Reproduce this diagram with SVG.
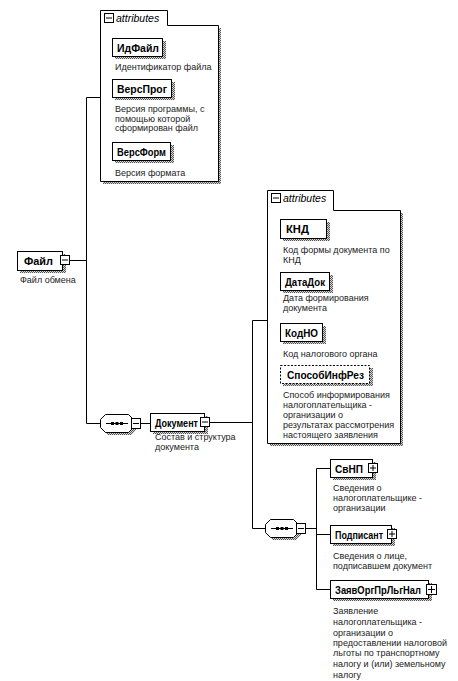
<svg xmlns="http://www.w3.org/2000/svg" width="458" height="681" viewBox="0 0 458 681">
<defs>
<pattern id="dots" width="2" height="2" patternUnits="userSpaceOnUse">
<rect width="2" height="2" fill="#d8d8d8"/>
<rect width="1" height="1" fill="#555"/>
<rect x="1" y="1" width="1" height="1" fill="#555"/>
</pattern>
</defs>
<style>
.box{fill:#fff;stroke:#000;stroke-width:1}
.dash{fill:#fff;stroke:#000;stroke-width:1;stroke-dasharray:2,1.5}
.sh{fill:url(#dots)}
.ic{fill:#fff;stroke:#000;stroke-width:1}
.icl{stroke:#000;stroke-width:1}
.lbl{font-family:"Liberation Sans",Arial,sans-serif;font-size:10.5px;font-weight:bold;fill:#000}
.desc{font-family:"Liberation Sans",Arial,sans-serif;font-size:9px;fill:#222}
.tab{font-family:"Liberation Sans",Arial,sans-serif;font-size:10.5px;font-style:italic;fill:#000}
.ln{stroke:#000;stroke-width:1;fill:none}
.frame{fill:#fff;stroke:#000;stroke-width:1}
</style>
<rect width="458" height="681" fill="#fff"/>

<g id="connectors">
<path class="ln" d="M69.5,260.5H86.5M86.5,97.5V423.5M86.5,97.5H100M86.5,423.5H100M141,423.5H150"/>
<path class="ln" d="M209,422.5H252.5M252.5,320.5V528.5M252.5,320.5H267M252.5,528.5H265M306,528.5H316.5M316.5,468.5V589.5M316.5,468.5H330M316.5,534.5H330M316.5,589.5H330"/>
</g>

<g id="attributes1">
<polyline class="sh" points="218,28 221,28 221,184 103,184 103,181 218,181"/>
<path class="frame" d="M100.5,10.5H167.5V25.5H218.5V181.5H100.5Z"/>
<rect class="ic" x="104.5" y="13.5" width="9" height="9"/>
<line class="icl" x1="106" y1="18" x2="112" y2="18"/>
<text class="tab" x="116" y="22">attributes</text>
</g>

<g id="ИдФайл">
<rect class="sh" x="115" y="41" width="51" height="18"/>
<rect class="box" x="112.5" y="38.5" width="50" height="18"/>
<text class="lbl" x="117" y="51.5" textLength="42" lengthAdjust="spacingAndGlyphs">ИдФайл</text>
<text class="desc" x="115" y="70">Идентификатор файла</text>
</g>

<g id="ВерсПрог">
<rect class="sh" x="115" y="82" width="60" height="18"/>
<rect class="box" x="112.5" y="79.5" width="59" height="18"/>
<text class="lbl" x="117" y="92.5" textLength="50" lengthAdjust="spacingAndGlyphs">ВерсПрог</text>
<text class="desc" x="115" y="112">Версия программы, с</text>
<text class="desc" x="115" y="121.5">помощью которой</text>
<text class="desc" x="115" y="131">сформирован файл</text>
</g>

<g id="ВерсФорм">
<rect class="sh" x="115" y="145" width="59" height="18"/>
<rect class="box" x="112.5" y="142.5" width="58" height="18"/>
<text class="lbl" x="117" y="155.5" textLength="49" lengthAdjust="spacingAndGlyphs">ВерсФорм</text>
<text class="desc" x="115" y="176">Версия формата</text>
</g>

<g id="Файл">
<rect class="sh" x="20" y="254" width="46" height="19"/>
<rect class="box" x="17.5" y="251.5" width="45" height="19"/>
<text class="lbl" x="24" y="265" textLength="29" lengthAdjust="spacingAndGlyphs">Файл</text>
<rect class="ic" x="60.5" y="255.5" width="9" height="9"/>
<line class="icl" x1="62" y1="260" x2="68" y2="260"/>
<text class="desc" x="20" y="283">Файл обмена</text>
</g>

<g id="attributes2">
<polyline class="sh" points="400,213 403,213 403,446 270,446 270,443 400,443"/>
<path class="frame" d="M267.5,190.5H333.5V210.5H400.5V443.5H267.5Z"/>
<rect class="ic" x="271.5" y="193.5" width="9" height="9"/>
<line class="icl" x1="273" y1="198" x2="279" y2="198"/>
<text class="tab" x="283" y="202">attributes</text>
</g>

<g id="КНД">
<rect class="sh" x="283" y="222" width="47" height="19"/>
<rect class="box" x="280.5" y="219.5" width="46" height="19"/>
<text class="lbl" x="286" y="233" textLength="23" lengthAdjust="spacingAndGlyphs">КНД</text>
<text class="desc" x="283" y="253">Код формы документа по</text>
<text class="desc" x="283" y="263">КНД</text>
</g>

<g id="ДатаДок">
<rect class="sh" x="283" y="275" width="50" height="18"/>
<rect class="box" x="280.5" y="272.5" width="49" height="18"/>
<text class="lbl" x="285" y="285.5" textLength="40" lengthAdjust="spacingAndGlyphs">ДатаДок</text>
<text class="desc" x="283" y="301">Дата формирования</text>
<text class="desc" x="283" y="311">документа</text>
</g>

<g id="КодНО">
<rect class="sh" x="283" y="326" width="43" height="18"/>
<rect class="box" x="280.5" y="323.5" width="42" height="18"/>
<text class="lbl" x="285" y="336.5" textLength="33" lengthAdjust="spacingAndGlyphs">КодНО</text>
<text class="desc" x="283" y="357">Код налогового органа</text>
</g>

<g id="СпособИнфРез">
<rect class="sh" x="283" y="368" width="90" height="18"/>
<rect class="dash" x="280.5" y="365.5" width="89" height="18"/>
<text class="lbl" x="287" y="378.5" textLength="77" lengthAdjust="spacingAndGlyphs">СпособИнфРез</text>
<text class="desc" x="283" y="398">Способ информирования</text>
<text class="desc" x="283" y="408">налогоплательщика -</text>
<text class="desc" x="283" y="418">организации о</text>
<text class="desc" x="283" y="428">результатах рассмотрения</text>
<text class="desc" x="283" y="438">настоящего заявления</text>
</g>

<g id="sequence1">
<polygon class="sh" points="108,417 131,417 136,422 136,430 131,435 108,435 103,430 103,422"/>
<polygon class="box" points="105.5,414.5 128.5,414.5 133.5,419.5 133.5,427.5 128.5,432.5 105.5,432.5 100.5,427.5 100.5,419.5"/>
<line class="icl" x1="106" y1="423.5" x2="128" y2="423.5"/>
<rect x="111" y="422" width="3" height="3" fill="#000"/>
<rect x="115.5" y="422" width="3" height="3" fill="#000"/>
<rect x="120" y="422" width="3" height="3" fill="#000"/>
<rect class="ic" x="131.5" y="418.5" width="9" height="10"/>
<line class="icl" x1="133" y1="423.5" x2="139" y2="423.5"/>
</g>

<g id="Документ">
<rect class="sh" x="153" y="416" width="55" height="18"/>
<rect class="box" x="150.5" y="413.5" width="54" height="18"/>
<text class="lbl" x="155" y="426.5" textLength="43" lengthAdjust="spacingAndGlyphs">Документ</text>
<rect class="ic" x="200.5" y="417.5" width="9" height="9"/>
<line class="icl" x1="202" y1="422" x2="208" y2="422"/>
<text class="desc" x="155" y="440">Состав и структура</text>
<text class="desc" x="155" y="450">документа</text>
</g>

<g id="sequence2">
<polygon class="sh" points="273,522 296,522 301,527 301,535 296,540 273,540 268,535 268,527"/>
<polygon class="box" points="270.5,519.5 293.5,519.5 298.5,524.5 298.5,532.5 293.5,537.5 270.5,537.5 265.5,532.5 265.5,524.5"/>
<line class="icl" x1="271" y1="528.5" x2="293" y2="528.5"/>
<rect x="276" y="527" width="3" height="3" fill="#000"/>
<rect x="280.5" y="527" width="3" height="3" fill="#000"/>
<rect x="285" y="527" width="3" height="3" fill="#000"/>
<rect class="ic" x="296.5" y="523.5" width="9" height="10"/>
<line class="icl" x1="298" y1="528.5" x2="304" y2="528.5"/>
</g>

<g id="СвНП">
<rect class="sh" x="333" y="462" width="43" height="18"/>
<rect class="box" x="330.5" y="459.5" width="42" height="18"/>
<text class="lbl" x="335" y="472.5" textLength="28" lengthAdjust="spacingAndGlyphs">СвНП</text>
<rect class="ic" x="368.5" y="463.5" width="9" height="9"/>
<line class="icl" x1="370" y1="468" x2="376" y2="468"/>
<line class="icl" x1="373" y1="465" x2="373" y2="471"/>
<text class="desc" x="333" y="491">Сведения о</text>
<text class="desc" x="333" y="501">налогоплательщике -</text>
<text class="desc" x="333" y="511">организации</text>
</g>

<g id="Подписант">
<rect class="sh" x="333" y="528" width="62" height="18"/>
<rect class="box" x="330.5" y="525.5" width="61" height="18"/>
<text class="lbl" x="335" y="538.5" textLength="48" lengthAdjust="spacingAndGlyphs">Подписант</text>
<rect class="ic" x="387.5" y="529.5" width="9" height="9"/>
<line class="icl" x1="389" y1="534" x2="395" y2="534"/>
<line class="icl" x1="392" y1="531" x2="392" y2="537"/>
<text class="desc" x="333" y="559">Сведения о лице,</text>
<text class="desc" x="333" y="569">подписавшем документ</text>
</g>

<g id="ЗаявОргПрЛьгНал">
<rect class="sh" x="333" y="583" width="99" height="18"/>
<rect class="box" x="330.5" y="580.5" width="98" height="18"/>
<text class="lbl" x="335" y="593.5" textLength="86" lengthAdjust="spacingAndGlyphs">ЗаявОргПрЛьгНал</text>
<rect class="ic" x="426.5" y="584.5" width="10" height="10"/>
<line class="icl" x1="428" y1="589.5" x2="435" y2="589.5"/>
<line class="icl" x1="431.5" y1="586" x2="431.5" y2="593"/>
<text class="desc" x="333" y="614">Заявление</text>
<text class="desc" x="333" y="625">налогоплательщика -</text>
<text class="desc" x="333" y="636">организации о</text>
<text class="desc" x="333" y="646">предоставлении налоговой</text>
<text class="desc" x="333" y="656">льготы по транспортному</text>
<text class="desc" x="333" y="667">налогу и (или) земельному</text>
<text class="desc" x="333" y="678">налогу</text>
</g>
</svg>
